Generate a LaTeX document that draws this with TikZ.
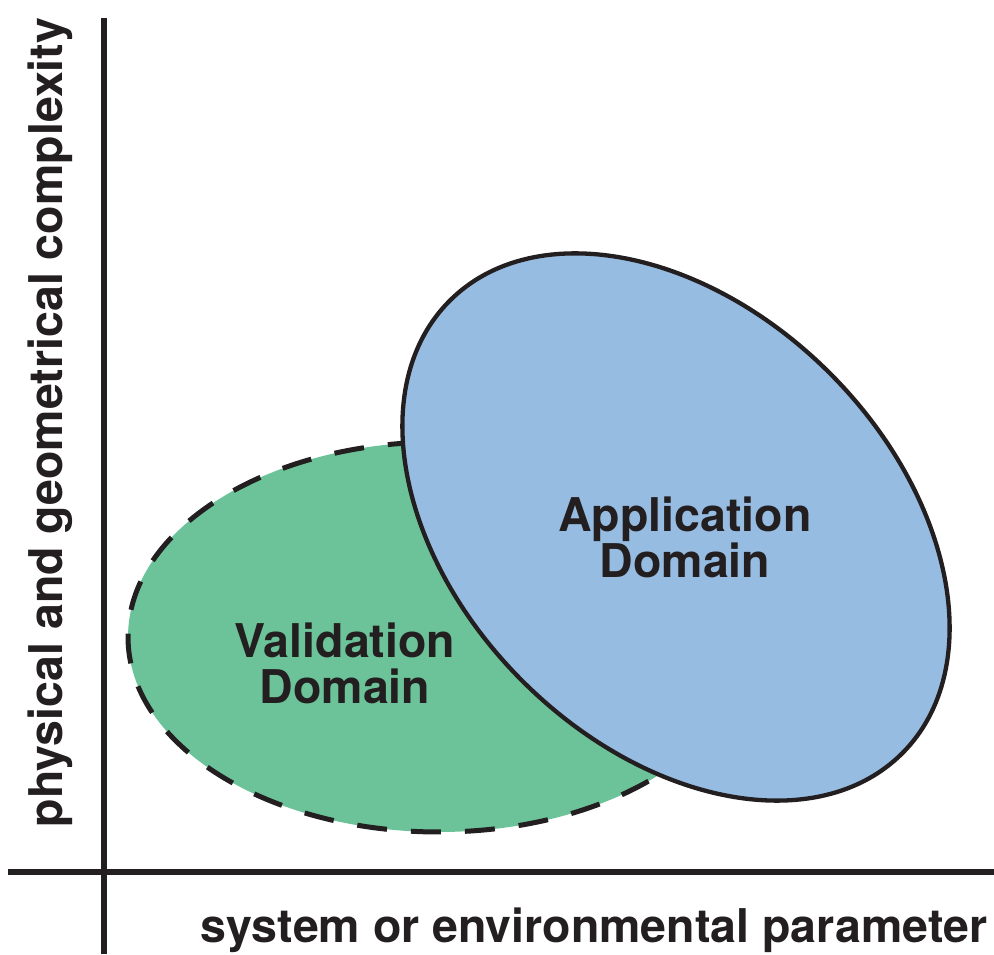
\documentclass[tikz,border=0pt]{standalone}
\usepackage{fontspec}
\setmainfont{TeX Gyre Heros}
\begin{document}
\begin{tikzpicture}[x=1pt,y=1pt,
  axisline/.style={line width=5.3pt, draw=inkdark},
  domainlabel/.style={font=\bfseries\fontsize{46.5}{46}\selectfont, text=inkdark, align=center, inner sep=0pt},
  axislabel/.style={font=\bfseries\fontsize{46.5}{46}\selectfont, text=inkdark, inner sep=0pt}]
  \definecolor{inkdark}{HTML}{231F20}
  \definecolor{validgreen}{HTML}{6CC399}
  \definecolor{appblue}{HTML}{97BCE2}
  \useasboundingbox (0,0) rectangle (994,954);

  % domain centres
  \coordinate (vc) at (439,317);
  \coordinate (ac) at (676,427);

  % validation domain: dashed ellipse
  \fill[validgreen] (vc) ellipse [x radius=311, y radius=195];
  \draw[inkdark, line width=5pt, dash pattern=on 30pt off 24pt, dash phase=8pt] (vc) ellipse [x radius=311, y radius=195];

  % application domain: tilted ellipse drawn on top
  \filldraw[fill=appblue, draw=inkdark, line width=4.3pt, rotate around={-45:(ac)}]
    (ac) ellipse [x radius=320, y radius=217.5];

  \node[domainlabel] (vlabel) at (345,291) {Validation\\Domain};
  \node[domainlabel] (alabel) at (685,417) {Application\\Domain};

  % axes
  \coordinate (ytop) at (104,936);
  \coordinate (ybot) at (104,0);
  \coordinate (xleft) at (8,82);
  \coordinate (xright) at (994,82);
  \draw[axisline] (ybot) -- (ytop);
  \draw[axisline] (xleft) -- (xright);

  \node[axislabel, anchor=base] (xlabel) at (594,12) {system or environmental parameter};
  \node[axislabel, anchor=base, rotate=90] (ylabel) at (62,531.5) {physical and geometrical complexity};
\end{tikzpicture}
\end{document}
